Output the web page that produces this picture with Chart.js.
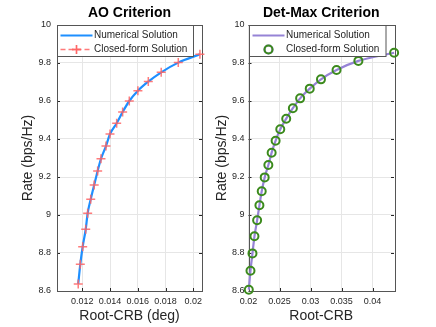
<!DOCTYPE html>
<html>
<head>
<meta charset="utf-8">
<script src="https://cdn.jsdelivr.net/npm/chart.js@4"></script>
<style>
  body { margin: 0; background: #fff; }
  #wrap { position: relative; width: 436px; height: 327px; }
  canvas { position: absolute; top: 0; }
</style>
</head>
<body>
<div id="wrap">
  <canvas id="ao" width="218" height="327" style="left:0"></canvas>
  <canvas id="det" width="236" height="327" style="left:200px"></canvas>
</div>
<script>
// AO criterion (x = root-CRB in deg, y = rate)
const aoCrb  = [0.01171, 0.01186, 0.01203, 0.01225, 0.01239, 0.01261, 0.01286, 0.01311, 0.01335, 0.01371,
                0.01400, 0.01448, 0.01491, 0.01539, 0.01601, 0.01676, 0.01769, 0.01892, 0.02048];
const aoRate = [8.637, 8.741, 8.833, 8.925, 9.009, 9.083, 9.158, 9.232, 9.296, 9.363,
                9.426, 9.483, 9.542, 9.600, 9.654, 9.702, 9.751, 9.802, 9.846];

// Det-Max criterion
const detCrb  = [0.02005, 0.02032, 0.02064, 0.02096, 0.02139, 0.02176, 0.02213, 0.02261, 0.02320, 0.02373,
                 0.02437, 0.02512, 0.02608, 0.02715, 0.02832, 0.02987, 0.03168, 0.03419, 0.03771, 0.04347];
const detRate = [8.607, 8.707, 8.798, 8.888, 8.972, 9.051, 9.125, 9.198, 9.263, 9.328,
                 9.391, 9.451, 9.507, 9.562, 9.614, 9.665, 9.714, 9.763, 9.811, 9.854];

const rateTicks = [8.6, 8.8, 9, 9.2, 9.4, 9.6, 9.8, 10];
const aoTicks = [0.012, 0.014, 0.016, 0.018, 0.02];
const detTicks = [0.02, 0.025, 0.03, 0.035, 0.04];

const seriesNames = ['Numerical Solution', 'Closed-form Solution'];

const FONT = "'Liberation Sans', Arial, Helvetica, sans-serif";
const AX = '#262626';

const pts = (xs, ys) => xs.map((x, i) => ({ x: x, y: ys[i] }));

// box, inward ticks, title and in-axes legend, matlab style
const matlabAxes = {
  id: 'matlabAxes',
  beforeDatasetsDraw(chart) {
    const a = chart.chartArea, ctx = chart.ctx;
    const xs = chart.scales.x, ys = chart.scales.y;
    ctx.save();
    ctx.strokeStyle = AX;
    ctx.lineWidth = 1;
    ctx.beginPath();
    xs.ticks.forEach(t => {
      const px = Math.round(xs.getPixelForValue(t.value)) + 0.5;
      ctx.moveTo(px, a.bottom); ctx.lineTo(px, a.bottom - 3);
      ctx.moveTo(px, a.top); ctx.lineTo(px, a.top + 3);
    });
    ys.ticks.forEach(t => {
      const py = Math.round(ys.getPixelForValue(t.value)) + 0.5;
      ctx.moveTo(a.left, py); ctx.lineTo(a.left + 3, py);
      ctx.moveTo(a.right, py); ctx.lineTo(a.right - 3, py);
    });
    ctx.stroke();
    ctx.strokeStyle = '#555';
    ctx.strokeRect(Math.round(a.left) + 0.5, Math.round(a.top) + 0.5,
                   Math.round(a.right - a.left), Math.round(a.bottom - a.top));
    ctx.restore();
  },
  afterDraw(chart, args, opts) {
    const a = chart.chartArea, ctx = chart.ctx;
    ctx.save();
    // title
    ctx.fillStyle = '#000';
    ctx.font = 'bold 14px ' + FONT;
    ctx.textAlign = 'center';
    ctx.textBaseline = 'middle';
    ctx.fillText(opts.title, (a.left + a.right) / 2, 13.5);
    // legend
    const lx = Math.round(a.left) + 0.5, ly = Math.round(a.top) + 0.5;
    ctx.fillStyle = '#fff';
    ctx.fillRect(lx, ly, opts.legendW, 31);
    ctx.strokeStyle = '#555';
    ctx.lineWidth = 1;
    ctx.strokeRect(lx, ly, opts.legendW, 31);
    const ds = chart.data.datasets;
    const rows = [ly + 10, ly + 24];
    // row 1: solid line
    ctx.strokeStyle = ds[0].borderColor;
    ctx.lineWidth = ds[0].borderWidth;
    ctx.beginPath();
    ctx.moveTo(lx + 3, rows[0]); ctx.lineTo(lx + 35, rows[0]);
    ctx.stroke();
    // row 2: marker (and dashed line for AO)
    const mx = lx + 19;
    if (opts.dashed) {
      ctx.strokeStyle = ds[1].pointBorderColor;
      ctx.lineWidth = 1.3;
      ctx.setLineDash([5, 3]);
      ctx.beginPath();
      ctx.moveTo(lx + 3, rows[1]); ctx.lineTo(lx + 35, rows[1]);
      ctx.stroke();
      ctx.setLineDash([]);
    }
    Chart.helpers.drawPoint(ctx, {
      pointStyle: ds[1].pointStyle, radius: ds[1].pointRadius, rotation: 0,
      borderWidth: ds[1].pointBorderWidth
    }, mx, rows[1]);
    ctx.strokeStyle = ds[1].pointBorderColor;
    ctx.lineWidth = ds[1].pointBorderWidth;
    ctx.beginPath();
    if (ds[1].pointStyle === 'circle') {
      ctx.arc(mx, rows[1], ds[1].pointRadius, 0, Math.PI * 2);
    } else {
      const r = ds[1].pointRadius;
      ctx.moveTo(mx - r, rows[1]); ctx.lineTo(mx + r, rows[1]);
      ctx.moveTo(mx, rows[1] - r); ctx.lineTo(mx, rows[1] + r);
    }
    ctx.stroke();
    ctx.fillStyle = AX;
    ctx.font = '10px ' + FONT;
    ctx.textAlign = 'left';
    ctx.fillText(seriesNames[0], lx + 36.5, rows[0]);
    ctx.fillText(seriesNames[1], lx + 36.5, rows[1]);
    ctx.restore();
  }
};

function makeChart(id, o) {
  return new Chart(document.getElementById(id), {
    type: 'scatter',
    data: {
      datasets: [
        {
          label: seriesNames[0],
          data: pts(o.xs, o.ys),
          showLine: true,
          borderColor: o.lineColor,
          borderWidth: 2.2,
          pointRadius: 0,
          cubicInterpolationMode: 'monotone',
          clip: false,
          order: 2
        },
        {
          label: seriesNames[1],
          data: pts(o.xs, o.ys),
          showLine: false,
          pointStyle: o.marker,
          pointRadius: o.markerR,
          pointBorderWidth: o.markerW,
          pointBorderColor: o.markerColor,
          pointBackgroundColor: 'rgba(0,0,0,0)',
          borderColor: o.markerColor,
          clip: false,
          order: 1
        }
      ]
    },
    options: {
      responsive: false,
      animation: false,
      devicePixelRatio: 1,
      layout: { padding: { top: 25, right: o.padRight, bottom: 0, left: 0 } },
      plugins: {
        legend: { display: false },
        tooltip: { enabled: false },
        matlabAxes: { title: o.title, legendW: o.legendW, dashed: o.dashed }
      },
      scales: {
        x: {
          type: 'linear',
          min: o.xMin, max: o.xMax,
          afterBuildTicks: s => { s.ticks = o.xTicks.map(v => ({ value: v })); },
          afterFit: s => { s.height = 36; },
          grid: { color: '#e6e6e6', drawTicks: false, tickLength: 0 },
          border: { display: false },
          ticks: {
            autoSkip: false, maxRotation: 0, padding: 5,
            color: AX, font: { family: FONT, size: 9 },
            callback: v => String(+v.toFixed(3))
          },
          title: {
            display: true, text: o.xTitle, color: AX,
            font: { family: FONT, size: 14 },
            padding: { top: 0, bottom: 2 }
          }
        },
        y: {
          type: 'linear',
          min: 8.6, max: 10,
          afterBuildTicks: s => { s.ticks = rateTicks.map(v => ({ value: v })); },
          afterFit: s => { s.width = o.yWidth; },
          grid: { color: '#e6e6e6', drawTicks: false, tickLength: 0 },
          border: { display: false },
          ticks: {
            autoSkip: false, padding: o.yPad,
            color: AX, font: { family: FONT, size: 9 },
            callback: v => String(+v.toFixed(1))
          },
          title: {
            display: true, text: 'Rate (bps/Hz)', color: AX,
            font: { family: FONT, size: 14 },
            padding: { top: o.yTitlePad, bottom: 0 }
          }
        }
      }
    },
    plugins: [matlabAxes]
  });
}

makeChart('ao', {
  title: 'AO Criterion', xTitle: 'Root-CRB (deg)',
  xs: aoCrb, ys: aoRate, xTicks: aoTicks, xMin: 0.01018, xMax: 0.02063,
  lineColor: '#1e8fff', marker: 'cross', markerR: 4.5, markerW: 1.5, markerColor: 'rgba(255,100,100,0.85)',
  padRight: 16, yWidth: 57, yPad: 6, yTitlePad: 20, legendW: 136, dashed: true
});

makeChart('det', {
  title: 'Det-Max Criterion', xTitle: 'Root-CRB',
  xs: detCrb, ys: detRate, xTicks: detTicks, xMin: 0.02, xMax: 0.04345,
  lineColor: '#9683d6', marker: 'circle', markerR: 4, markerW: 2, markerColor: '#3b8a1c',
  padRight: 42, yWidth: 48.5, yPad: 4, yTitlePad: 13.3, legendW: 136.5, dashed: false
});
</script>
</body>
</html>
